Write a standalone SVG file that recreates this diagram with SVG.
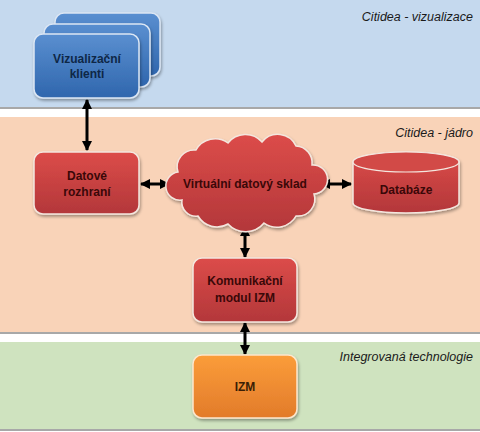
<svg xmlns="http://www.w3.org/2000/svg" width="480" height="432" viewBox="0 0 480 432">
<defs>
<linearGradient id="gBlue" x1="0" y1="0" x2="0" y2="1"><stop offset="0" stop-color="#5a8fd0"/><stop offset="1" stop-color="#2f66ad"/></linearGradient>
<linearGradient id="gRed" x1="0" y1="0" x2="0" y2="1"><stop offset="0" stop-color="#dc4c49"/><stop offset="1" stop-color="#b3373a"/></linearGradient>
<linearGradient id="gOrange" x1="0" y1="0" x2="0" y2="1"><stop offset="0" stop-color="#fb9d3a"/><stop offset="1" stop-color="#e27b2a"/></linearGradient>
<filter id="sh" x="-10%" y="-10%" width="130%" height="130%"><feDropShadow dx="1" dy="2" stdDeviation="1.5" flood-color="#000" flood-opacity="0.35"/></filter>
<marker id="ah" viewBox="0 0 10 10" refX="9" refY="5" markerWidth="10" markerHeight="10" markerUnits="userSpaceOnUse" orient="auto-start-reverse"><path d="M0,0 L10,5 L0,10 Z" fill="#000"/></marker>
</defs>
<style>
.band{stroke:none}
.edge{stroke:#a8a8a8;stroke-width:2}
.lbl{font-family:"Liberation Sans",Arial,sans-serif;font-style:italic;font-size:12.5px;fill:#1a1a1a;text-anchor:end}
.node{stroke:#f4e6de;stroke-width:1.5;filter:url(#sh)}
.blue{fill:url(#gBlue);stroke:#dbe6f4}
.red{fill:url(#gRed)}
.orange{fill:url(#gOrange);stroke:#fde6cc}
.t{font-family:"Liberation Sans",Arial,sans-serif;font-weight:bold;font-size:12px;text-anchor:middle}
.tb{fill:#0e2746}
.tr{fill:#3a0808}
.to{fill:#3a1e05}
.conn{stroke:#000;stroke-width:3;fill:none;marker-start:url(#ah);marker-end:url(#ah)}
</style>
<rect width="480" height="432" fill="#ffffff"/>
<g id="bands">
<rect class="band" x="0" y="0" width="480" height="107" fill="#c5d9ee"/>
<line class="edge" x1="0" y1="108" x2="480" y2="108"/>
<rect class="band" x="0" y="117" width="480" height="215" fill="#f9d3b8"/>
<line class="edge" x1="0" y1="333" x2="480" y2="333"/>
<rect class="band" x="0" y="342" width="480" height="87" fill="#cfe3bf"/>
<line class="edge" x1="0" y1="430" x2="480" y2="430"/>
<text class="lbl" x="473" y="21">Citidea - vizualizace</text>
<text class="lbl" x="473" y="137">Citidea - jádro</text>
<text class="lbl" x="473" y="361">Integrovaná technologie</text>
</g>
<g id="connectors">
<line class="conn" x1="87" y1="100" x2="87" y2="150"/>
<line class="conn" x1="141" y1="184" x2="169" y2="184"/>
<line class="conn" x1="321" y1="184" x2="351" y2="184"/>
<line class="conn" x1="245" y1="227" x2="245" y2="257"/>
<line class="conn" x1="245" y1="323" x2="245" y2="354"/>
</g>
<g id="vizualizacni-klienti">
<rect class="node blue" x="55" y="13" width="105" height="63" rx="9"/>
<rect class="node blue" x="44" y="24" width="106" height="63" rx="9"/>
<rect class="node blue" x="34" y="34" width="105" height="64" rx="9"/>
<text class="t tb" x="87" y="63">Vizualizační</text>
<text class="t tb" x="87" y="78">klienti</text>
</g>
<g id="datove-rozhrani">
<rect class="node red" x="34" y="152" width="105" height="62" rx="9"/>
<text class="t tr" x="87" y="180">Datové</text>
<text class="t tr" x="87" y="196">rozhraní</text>
</g>
<g id="virtualni-datovy-sklad">
<path class="node red" d="M182,200 A14,14 0 0 1 178,172 A17,17 0 0 1 196,150 A22,22 0 0 1 228,143 A22,22 0 0 1 262,142 A20,20 0 0 1 296,146 A17,17 0 0 1 312,165 A14,14 0 0 1 314,194 A17,17 0 0 1 296,216 A22,22 0 0 1 264,223 A24,24 0 0 1 228,224 A22,22 0 0 1 198,216 A14,14 0 0 1 182,200 Z"/>
<text class="t tr" x="245" y="188">Virtuální datový sklad</text>
</g>
<g id="databaze">
<path class="node red" d="M353,162 L353,203 A53,10 0 0 0 459,203 L459,162 A53,10 0 0 0 353,162 Z"/>
<ellipse cx="406" cy="162" rx="53" ry="10" fill="#d24a47" stroke="#f4e6de" stroke-width="1.2"/>
<text class="t tr" x="406" y="194">Databáze</text>
</g>
<g id="komunikacni-modul">
<rect class="node red" x="193" y="258" width="104" height="64" rx="9"/>
<text class="t tr" x="245" y="285">Komunikační</text>
<text class="t tr" x="245" y="302">modul IZM</text>
</g>
<g id="izm">
<rect class="node orange" x="193" y="355" width="104" height="63" rx="9"/>
<text class="t to" x="245" y="391">IZM</text>
</g>
</svg>
